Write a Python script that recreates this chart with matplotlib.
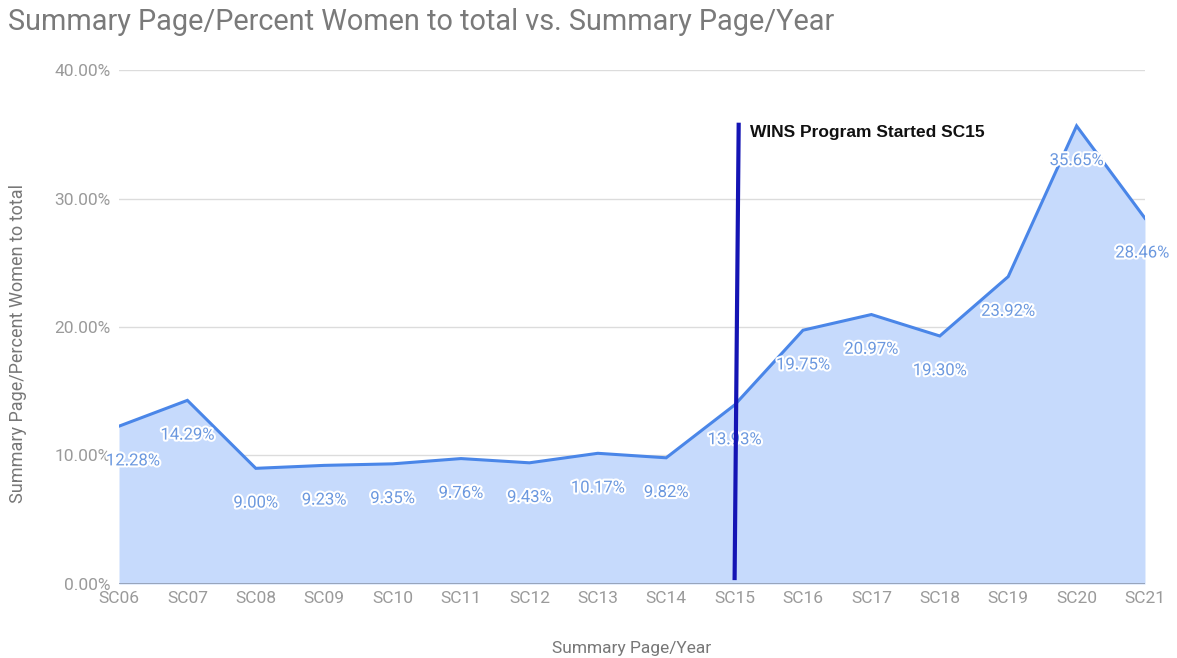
import matplotlib
matplotlib.use("Agg")
import matplotlib.pyplot as plt
import matplotlib.patheffects as pe
from matplotlib.ticker import FuncFormatter

categories = ["SC06", "SC07", "SC08", "SC09", "SC10", "SC11", "SC12", "SC13",
              "SC14", "SC15", "SC16", "SC17", "SC18", "SC19", "SC20", "SC21"]
percent_women = [12.28, 14.29, 9.00, 9.23, 9.35, 9.76, 9.43, 10.17,
                 9.82, 13.93, 19.75, 20.97, 19.30, 23.92, 35.65, 28.46]
y_ticks = [0, 10, 20, 30, 40]
marker_label = "WINS Program Started SC15"
marker_x = [9.06, 9.0]
marker_y = [35.9, 0.3]

plt.rcParams['font.family'] = ['Roboto', 'DejaVu Sans']

fig = plt.figure(figsize=(11.77, 6.58), dpi=100)
ax = fig.add_axes([0.1011, 0.1125, 0.9728 - 0.1011, 0.8936 - 0.1125])

x = list(range(len(categories)))
line_c = "#4a86e8"
ax.fill_between(x, percent_women, 0, color="#c6dafc", zorder=1, linewidth=0)
ax.plot(x, percent_women, color=line_c, lw=2.2, zorder=3, solid_joinstyle="miter")

for i, v in enumerate(percent_women):
    dx = 0
    if i == 0:
        dx = 10
    elif i == len(percent_women) - 1:
        dx = -2
    ax.annotate(f"{v:.2f}%", (i, v), xytext=(dx, -25), textcoords="offset points",
                ha="center", va="center", fontsize=12, color="#6b98df", zorder=4,
                path_effects=[pe.withStroke(linewidth=3, foreground="white")])

ax.set_xlim(0, len(categories) - 1)
ax.set_ylim(0, 40)
ax.set_yticks(y_ticks)
ax.yaxis.set_major_formatter(FuncFormatter(lambda v, p: f"{v:.2f}%"))
ax.set_xticks(x)
ax.set_xticklabels(categories)
ax.grid(axis="y", color="#dcdcdc", lw=1, zorder=0)
ax.set_axisbelow(True)
for s in ax.spines.values():
    s.set_visible(False)
ax.axhline(0, color="#8a94a8", lw=1.8, zorder=3)
ax.tick_params(axis="both", length=0, colors="#9a9a9a", labelsize=12.5)
ax.tick_params(axis="y", pad=6)
ax.tick_params(axis="x", pad=5)

ax.plot(marker_x, marker_y, color="#1414b4", lw=3, zorder=5, solid_capstyle="butt")
ax.text(9.22, 35.1, marker_label, fontsize=12.5, fontweight="bold",
        family=["Liberation Sans", "DejaVu Sans"], color="#111111", va="center", zorder=6)

ax.set_xlabel("Summary Page/Year", fontsize=12.5, color="#777777", labelpad=25)
ax.set_ylabel("Summary Page/Percent Women to total", fontsize=13, color="#777777")
ax.yaxis.set_label_coords(-0.09, 0.467)

fig.text(0.007, 0.966, "Summary Page/Percent Women to total vs. Summary Page/Year",
         fontsize=20.8, color="#7a7a7a", va="center", ha="left")

fig.savefig("out.png", dpi=100)
